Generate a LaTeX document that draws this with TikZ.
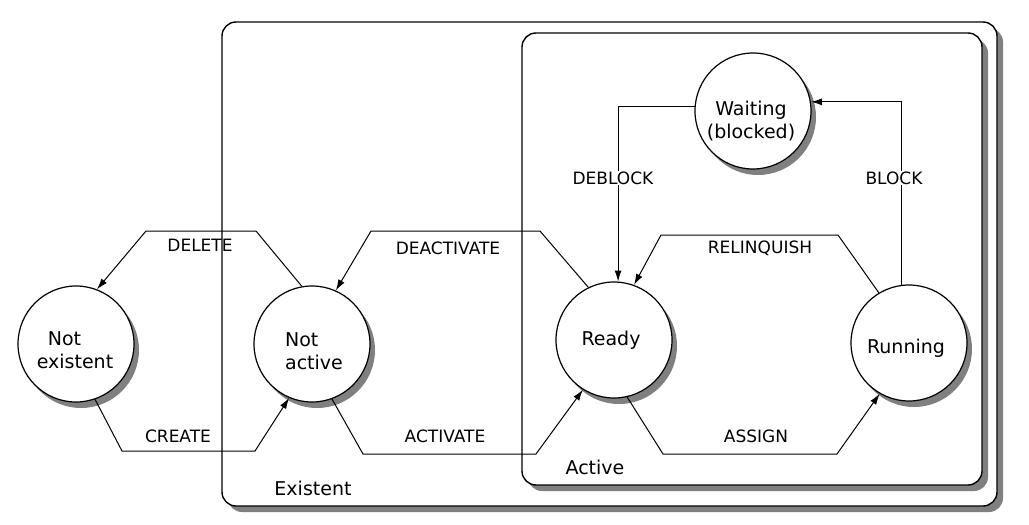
\documentclass[tikz,border=0pt]{standalone}
\usepackage{fontspec}
\setmainfont{DejaVu Sans}
\usetikzlibrary{arrows.meta,shadows}
\begin{document}
\begin{tikzpicture}[x=1pt,y=-1pt,
  shad/.style={drop shadow={shadow xshift=6pt,shadow yshift=-6pt,fill=black!50,opacity=1}},
  cshad/.style={drop shadow={shadow xshift=5pt,shadow yshift=-6pt,fill=black!50,opacity=1}},
  regionbox/.style={draw=black,line width=1.4pt,fill=white,rounded corners=14pt,shad,inner sep=0pt},
  state/.style={circle,draw=black,line width=1.2pt,fill=white,minimum size=116pt,inner sep=0pt,cshad},
  statetext/.style={font=\fontsize{19}{23.5}\selectfont,inner sep=0pt},
  boxtext/.style={font=\fontsize{19}{22}\selectfont,inner sep=0pt},
  edgetext/.style={font=\fontsize{17}{19}\selectfont,inner sep=1pt},
  conn/.style={draw=black,line width=1pt,-{Latex[length=11pt,width=7pt]}}
]
\useasboundingbox (0,0) rectangle (1029,525);
\fill[white] (0,0) rectangle (1029,525);

% region boxes
\node[regionbox,minimum width=775pt,minimum height=484pt] (ex) at (609.5,264) {};
\node[regionbox,minimum width=460pt,minimum height=452pt] (ac) at (752,259) {};
\node[boxtext] (ext) at (313,488) {Existent};
\node[boxtext] (act) at (595,467) {Active};

% states
\node[state] (ne) at (76,344) {};
\node[state] (na) at (312,344) {};
\node[state] (rd) at (614,340) {};
\node[state] (rn) at (909,343) {};
\node[state] (wt) at (753,111) {};

\node[statetext,align=left] (net) at (75,350) {\hspace*{11pt}Not\\existent};
\node[statetext,align=left] (nat) at (314,351) {Not\\active};
\node[statetext] (rdt) at (611,340) {Ready};
\node[statetext] (rnt) at (906,348) {Running};
\node[statetext,align=center] (wtt) at (751,121) {Waiting\\(blocked)};

% connectors
\draw[conn] (na.100) -- (256,231) -- (146,231) -- (ne.69);
\draw[conn] (ne.-71) -- (122,451) -- (255,451) -- (na.247);
\draw[conn] (rd.116) -- (540,231) -- (371,231) -- (na.66);
\draw[conn] (na.-70) -- (363,454) -- (536,454) -- (rd.238);
\draw[conn] (rd.-77) -- (663,454) -- (837,454) -- (rn.240);
\draw[conn] (rn.121) -- (838,235) -- (661,235) -- (rd.70);
\draw[conn] (wt.176) -| (rd.86);
\draw[conn] (rn.97) |- (wt.9);

% connector labels
\node[edgetext] (l-del) at (200,245) {DELETE};
\node[edgetext] (l-cre) at (178,436) {CREATE};
\node[edgetext] (l-dea) at (448,248) {DEACTIVATE};
\node[edgetext] (l-act) at (445,436) {ACTIVATE};
\node[edgetext] (l-ass) at (756,436) {ASSIGN};
\node[edgetext] (l-rel) at (760,248) {RELINQUISH};
\node[edgetext,fill=white] (l-deb) at (613,178) {DEBLOCK};
\node[edgetext,fill=white] (l-blk) at (894,178) {BLOCK};
\end{tikzpicture}
\end{document}
